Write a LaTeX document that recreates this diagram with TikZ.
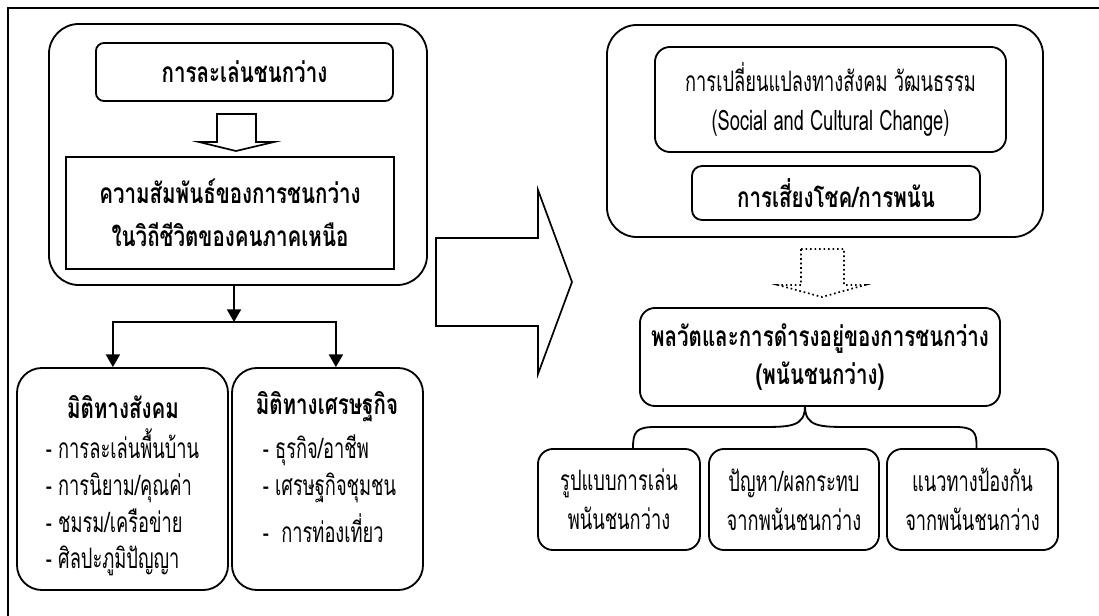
\documentclass[tikz,border=0pt]{standalone}
\usepackage{fontspec}
\setmainfont{Loma}[Script=Thai,UprightFeatures={FakeStretch=0.65},BoldFeatures={FakeStretch=0.73}]
\usepackage{tikz}
\usetikzlibrary{arrows.meta,positioning}

\tikzset{
  txt/.style={font=\fontsize{20}{27.5}\selectfont},
  box/.style={draw,line width=1.3pt,rounded corners=0.375cm,align=center,inner sep=0pt,txt},
  bigbox/.style={box,rounded corners=0.75cm},
  blockarrow/.style={draw,line width=1.2pt,line join=miter},
  list/.style={align=left,inner sep=0pt,font=\fontsize{20}{26.2}\selectfont}
}

\begin{document}
\begin{tikzpicture}[x=0.025cm,y=-0.025cm,>={Triangle[length=9pt,width=10pt]},line width=1.3pt]
\useasboundingbox (0,0) rectangle (1099,616);

\draw[line width=1.4pt] (8,616) -- (8,8) -- (1099,8);

\node(L)[bigbox,minimum width=9.45cm,minimum height=6.525cm] at (238,154.5) {};

\node(t1)[box,rounded corners=0.2cm,minimum width=7.425cm,minimum height=1.45cm] at (244.5,72) {\bfseries การละเล่นชนกว่าง};

\node(r1)[box,rounded corners=0pt,line width=1.7pt,minimum width=8.2cm,minimum height=2.8cm,font=\fontsize{20}{30.5}\selectfont] at (230,213) {\bfseries ความสัมพันธ์ของการชนกว่าง\\ \bfseries ในวิถีชีวิตของคนภาคเหนือ};

\draw[blockarrow] (217,114) -- (256,114) -- (256,142) -- (274,142) -- (236,151) -- (199,142) -- (217,142) -- cycle;

\node(s1)[bigbox,rounded corners=0.625cm,minimum width=5.275cm,minimum height=5.55cm] at (122.5,479) {};

\node(s2)[bigbox,rounded corners=0.625cm,minimum width=4.775cm,minimum height=5.55cm] at (327.5,479) {};

\node(s1h)[txt] at (123,407) {\bfseries มิติทางสังคม};

\node(s1l)[list,anchor=west] at (45,502.5) {- การละเล่นพื้นบ้าน\\- การนิยาม/คุณค่า\\- ชมรม/เครือข่าย\\- ศิลปะภูมิปัญญา};

\node(s2h)[txt] at (327,407) {\bfseries มิติทางเศรษฐกิจ};

\node(s2l)[list,anchor=west] at (262,488.5) {- ธุรกิจ/อาชีพ\\- เศรษฐกิจชุมชน\\[0.25cm]- \ การท่องเที่ยว};

\coordinate(j) at (234,322);

\draw[->] (L.south -| j) -- (j);
\draw[->] (j) -| ([xshift=-0.24cm]s1.north);
\draw[->] (j) -| ([xshift=0.21cm]s2.north);

\draw[blockarrow] (436,238) -- (538,238) -- (538,190) -- (572,282) -- (538,374) -- (538,326) -- (436,326) -- cycle;

\node(R)[bigbox,minimum width=10.9cm,minimum height=5.3cm] at (825,131) {};

\node(c1)[box,minimum width=8.775cm,minimum height=2.625cm] at (830.5,99.5) {การเปลี่ยนแปลงทางสังคม วัฒนธรรม\\(Social and Cultural Change)};

\node(c2)[box,rounded corners=0.25cm,minimum width=7.2cm,minimum height=1.35cm] at (836,193) {\bfseries การเสี่ยงโชค/การพนัน};

\draw[blockarrow,dotted] (801,249) -- (844,249) -- (844,285) -- (865,285) -- (822,297) -- (778,285) -- (801,285) -- cycle;

\node(p)[box,minimum width=9cm,minimum height=2.45cm] at (820,357) {\bfseries พลวัตและการดำรงอยู่ของการชนกว่าง\\ \bfseries (พนันชนกว่าง)};

\node(b1)[box,minimum width=4.05cm,minimum height=2.525cm] at (619,499.5) {รูปแบบการเล่น\\พนันชนกว่าง};

\node(b2)[box,minimum width=4.25cm,minimum height=2.525cm] at (794,499.5) {ปัญหา/ผลกระทบ\\จากพนันชนกว่าง};

\node(b3)[box,minimum width=4.275cm,minimum height=2.525cm] at (972.5,499.5) {แนวทางป้องกัน\\จากพนันชนกว่าง};

\coordinate(pk) at (805,406);

\draw (pk) .. controls (805,427) and (790,427) .. (760,427) -- (655,427) .. controls (636,427) and (633,432) .. ([xshift=0.35cm]b1.north);
\draw (pk) .. controls (805,427) and (820,427) .. (850,427) -- (955,427) .. controls (974,427) and (977,432) .. ([xshift=0.1cm]b3.north);

\end{tikzpicture}
\end{document}
